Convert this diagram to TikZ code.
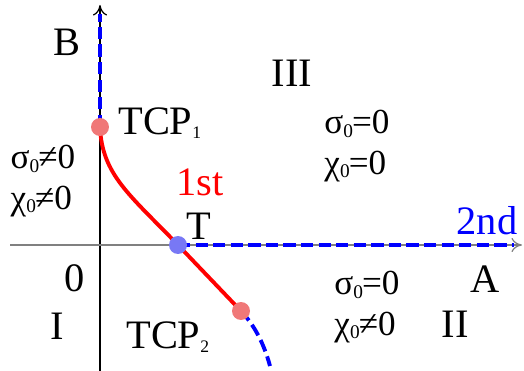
\documentclass[tikz,border=0pt]{standalone}
\usepackage{fontspec}
\setmainfont{Liberation Serif}
\usepackage{tikz}
\usetikzlibrary{arrows.meta,positioning,calc}
\definecolor{dotred}{RGB}{240,120,120}
\definecolor{dotblue}{RGB}{120,120,245}
\newcommand{\lbig}{\fontsize{23}{24}\selectfont}
\newcommand{\lmid}{\fontsize{20}{21}\selectfont}
\newcommand{\zsub}[1]{\raisebox{-2pt}{\fontsize{11}{11}\selectfont #1}\kern-0.5pt}
\newcommand{\tsub}[1]{\raisebox{-2pt}{\fontsize{10}{10}\selectfont #1}}

\begin{document}
\begin{tikzpicture}[x=0.02cm, y=-0.02cm,
  axis/.style={-{To[length=6pt,width=8pt]}, line width=0.7pt},
  first/.style={red, line width=2.2pt},
  second/.style={blue, line width=2.2pt, dash pattern=on 7pt off 3pt},
  dot/.style={circle, inner sep=0pt, minimum size=0.36cm},
  lbl/.style={font=\lbig, inner sep=0pt},
  cond/.style={font=\lmid, inner sep=0pt, align=left}
]
  \useasboundingbox (0,0) rectangle (524,371);
  \coordinate (ybot) at (100,371);
  \coordinate (ytop) at (100,5);
  \coordinate (xlft) at (10,245);
  \coordinate (xrgt) at (522,245);
  \coordinate (yend) at (100,14);
  \coordinate (xend) at (514,245);
  \coordinate (cend) at (270,366);

  \draw[axis] (ybot) -- (ytop);
  \draw[axis, gray] (xlft) -- (xrgt);

  \coordinate (tcp1) at (100,127);
  \coordinate (tp) at (178,245);
  \coordinate (tcp2) at (241,311);

  \draw[second] (tcp1) -- (yend);
  \draw[second] (tp) -- (xend);
  \draw[second] (tcp2) .. controls (255,326) and (264,344) .. (cend);
  \draw[first] (tcp1) .. controls (102,175) and (130,195) .. (tp) -- (tcp2);

  \node[dot, fill=dotred]  (d1) at (tcp1) {};
  \node[dot, fill=dotblue] (d2) at (tp) {};
  \node[dot, fill=dotred]  (d3) at (tcp2) {};

  \node[lbl] (lb) at (67,42) {B};
  \node[lbl] (la) at (485,279) {A};
  \node[lbl] (l3) at (292,73) {III};
  \node[lbl] (l2) at (455,324) {II};
  \node[lbl] (l1) at (57,326) {I};
  \node[lbl] (l0) at (75,278) {0};
  \node[lbl, anchor=west] (ltcp1) at (118,123) {TCP\tsub{1}};
  \node[lbl, anchor=west] (ltcp2) at (126,337) {TCP\tsub{2}};
  \node[lbl] (lt) at (199,226) {T};
  \node[lbl, red] (l1st) at (200,182) {1st};
  \node[lbl, blue] (l2nd) at (487,221) {2nd};

  \node[cond] (c3) at (357,146) {σ\zsub{0}=0\\[2pt]χ\zsub{0}=0};
  \node[cond] (c1) at (43,181) {σ\zsub{0}≠0\\[2pt]χ\zsub{0}≠0};
  \node[cond] (c2) at (367,307) {σ\zsub{0}=0\\[2pt]χ\zsub{0}≠0};
\end{tikzpicture}
\end{document}
